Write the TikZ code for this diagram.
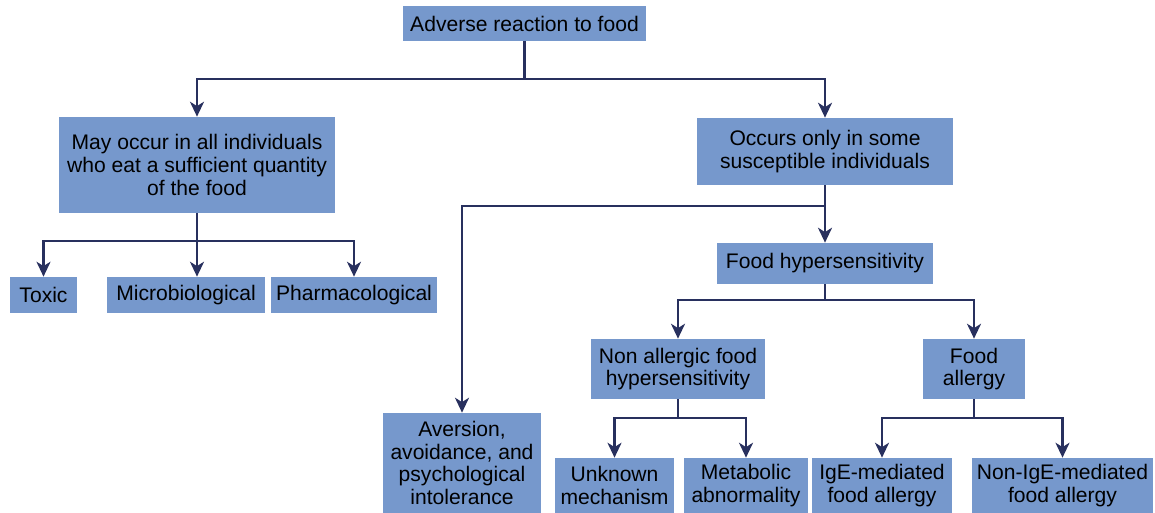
\documentclass[tikz,border=0pt]{standalone}
\usepackage{fontspec}
\setmainfont{Liberation Sans}
\usetikzlibrary{arrows.meta}
\definecolor{boxblue}{RGB}{118,152,204}
\definecolor{linenavy}{RGB}{40,48,94}
\begin{document}
\begin{tikzpicture}[x=0.02cm,y=-0.02cm,box/.style={fill=boxblue,inner sep=0pt,align=center,text=black,font=\fontsize{12}{13}\selectfont},arr/.style={draw=linenavy,line width=1.3pt,-{Stealth[length=8.5pt,width=8pt,inset=2.5pt]}}]
\useasboundingbox (0,0) rectangle (1155,513);
% top row
\node[box,minimum width=4.86cm,minimum height=0.70cm] (adverse) at (524.5,23.5) {Adverse reaction to food};
\node[box,minimum width=5.52cm,minimum height=1.92cm] (allind) at (197,165) {May occur in all individuals\\who eat a sufficient quantity\\of the food};
\node[box,minimum width=5.12cm,minimum height=1.34cm] (somesus) at (825,151.5) {Occurs only in some\\susceptible individuals};
% left branch
\node[box,minimum width=1.34cm,minimum height=0.72cm] (toxic) at (43.5,295) {Toxic};
\node[box,minimum width=3.16cm,minimum height=0.72cm] (micro) at (186,295) {Microbiological};
\node[box,minimum width=3.32cm,minimum height=0.72cm] (pharma) at (354,295) {Pharmacological};
% right branch
\node[box,minimum width=4.32cm,minimum height=0.82cm] (hyper) at (825,263.5) {Food hypersensitivity};
\node[box,minimum width=3.48cm,minimum height=1.20cm] (nonallergic) at (678,369) {Non allergic food\\hypersensitivity};
\node[box,minimum width=2.04cm,minimum height=1.20cm] (allergy) at (974,369) {Food\\allergy};
\node[box,minimum width=3.16cm,minimum height=2.00cm] (aversion) at (462,463) {Aversion,\\avoidance, and\\psychological\\intolerance};
\node[box,minimum width=2.38cm,minimum height=1.10cm] (unknown) at (614.5,485.5) {Unknown\\mechanism};
\node[box,minimum width=2.48cm,minimum height=1.10cm] (metabolic) at (746,485.5) {Metabolic\\abnormality};
\node[box,minimum width=2.80cm,minimum height=1.10cm] (ige) at (882,485.5) {IgE-mediated\\food allergy};
\node[box,minimum width=3.62cm,minimum height=1.10cm] (nonige) at (1062.5,485.5) {Non-IgE-mediated\\food allergy};
% connectors
\draw[arr] (adverse.south) -- ++(0,38) -| (allind.north);
\draw[arr] (adverse.south) -- ++(0,38) -| (somesus.north);
\draw[arr] (allind.south) -- ++(0,28) -| (toxic.north);
\draw[arr] (allind.south) -- ++(0,28) -| (micro.north -| allind.south);
\draw[arr] (allind.south) -- ++(0,28) -| (pharma.north);
\coordinate (split) at (825,206);
\draw[arr] (somesus.south) -- (hyper.north);
\draw[arr] (somesus.south) -- (split) -| (aversion.north);
\draw[arr] (hyper.south) -- ++(0,16) -| (nonallergic.north);
\draw[arr] (hyper.south) -- ++(0,16) -| (allergy.north);
\draw[arr] (nonallergic.south) -- ++(0,19) -| (unknown.north);
\draw[arr] (nonallergic.south) -- ++(0,19) -| (metabolic.north);
\draw[arr] (allergy.south) -- ++(0,19) -| (ige.north);
\draw[arr] (allergy.south) -- ++(0,19) -| (nonige.north);
\end{tikzpicture}
\end{document}
